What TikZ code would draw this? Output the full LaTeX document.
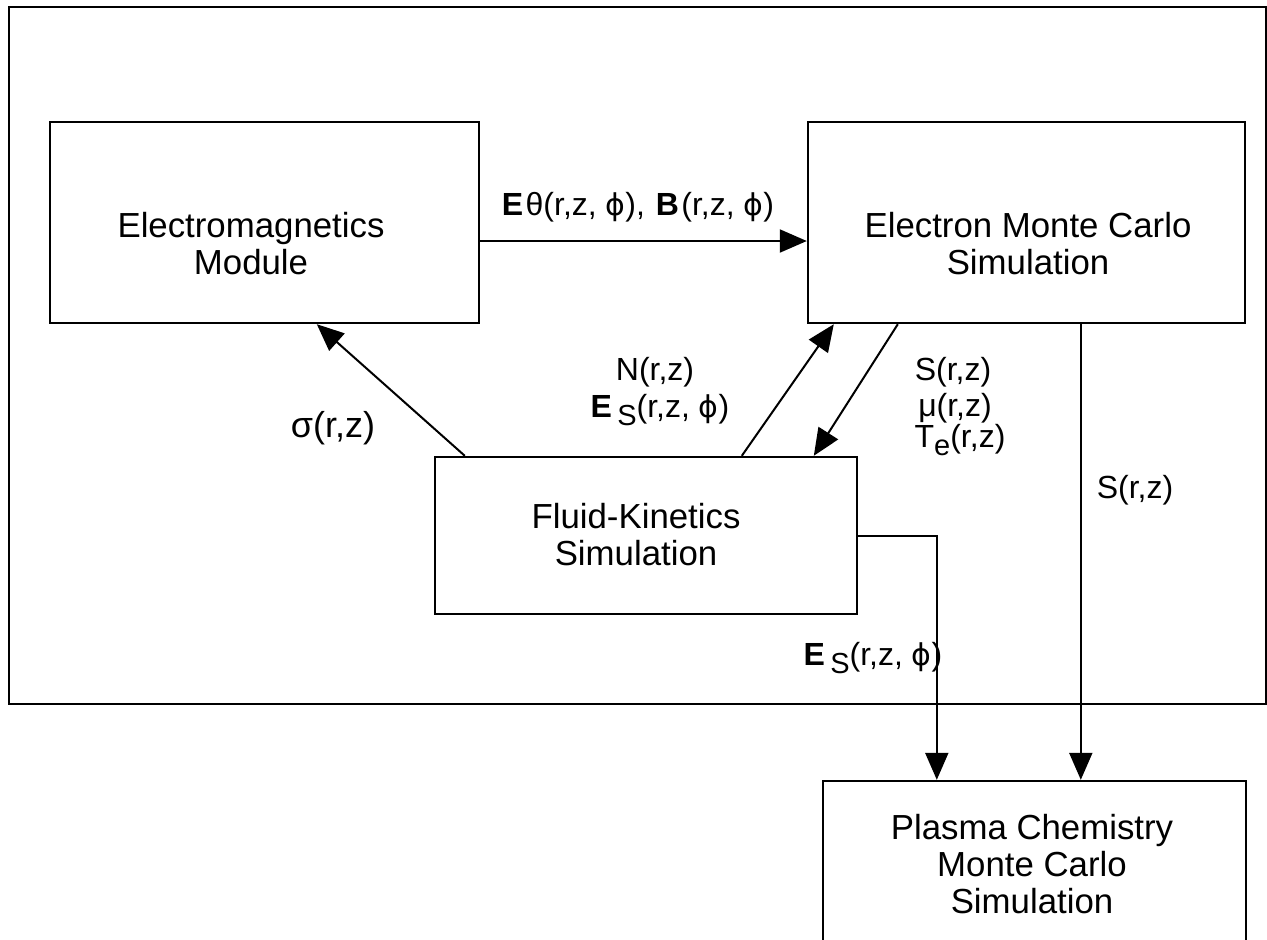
\documentclass[tikz,border=0pt]{standalone}
\usepackage{fontspec}
\setmainfont{Liberation Sans}
\newfontfamily\gk{DejaVu Sans}
\usetikzlibrary{arrows.meta,calc}
\newcommand{\phisym}{{\gk\fontsize{15}{18}\selectfont ϕ}}
\newcommand{\lowsub}[1]{\raisebox{-0.45ex}{\fontsize{14.5}{16}\selectfont #1}}
\begin{document}
\begin{tikzpicture}[x=0.5pt,y=-0.5pt,
  box/.style={draw,line width=1.2pt,inner sep=0pt},
  txt/.style={font=\fontsize{17.4}{18.5}\selectfont,align=center,inner sep=0pt},
  lbl/.style={font=\fontsize{16}{18.5}\selectfont,align=center,inner sep=0pt},
  arr/.style={line width=1pt,-{Triangle[length=13.5pt,width=11.5pt]}},
  ln/.style={line width=1pt}]
\useasboundingbox (0,0) rectangle (1267,939);
\clip (0,0) rectangle (1267,939);
% outer frame
\node[box,minimum width=628.5pt,minimum height=348.5pt] (frame) at (637.5,355.5) {};
% boxes
\node[box,minimum width=214.5pt,minimum height=100.5pt] (EM) at (264.5,222.5) {};
\node[box,minimum width=218.5pt,minimum height=100.5pt] (EMC) at (1026.5,222.5) {};
\node[box,minimum width=211pt,minimum height=78.5pt] (FK) at (646,535.5) {};
\node[box,minimum width=211.5pt,minimum height=110pt] (PC) at (1034.5,891) {};
% box texts
\node[txt] (EMt) at (251,243.5) {Electromagnetics\\Module};
\node[txt] (EMCt) at (1028,243.5) {Electron Monte Carlo\\Simulation};
\node[txt] (FKt) at (636,534.5) {Fluid-Kinetics\\Simulation};
\node[txt] (PCt) at (1032,864) {Plasma Chemistry\\Monte Carlo\\Simulation};
% connectors
\draw[arr] ([yshift=-9.25pt]EM.east) -- ([yshift=-9.25pt]EMC.west);
\draw[arr] ($(FK.north west)+(31,0)$) -- ($(EM.south west)+(268,0)$);
\draw[arr] ($(FK.north west)+(308,0)$) -- ($(EMC.south west)+(27,0)$);
\draw[arr] ($(EMC.south west)+(91,0)$) -- ($(FK.north west)+(380,0)$);
\coordinate (c1) at ($(EMC.south west)+(274,0)$);
\draw[arr] (c1) -- (c1 |- PC.north);
\coordinate (c2) at ($(PC.north west)+(115,0)$);
\draw[arr] (FK.east) -| (c2);
% labels
\node[lbl] (l1) at (638,207) {\textbf{E}\kern1.2ptθ(r,z, \phisym), \kern1pt\textbf{B}\kern1.2pt(r,z, \phisym)};
\node[lbl] (l2) at (655,372) {N(r,z)};
\node[lbl] (l3) at (660,410) {\textbf{E}\,\lowsub{S}(r,z, \phisym)};
\node[lbl] (l4) at (953,372) {S(r,z)};
\node[lbl] (l5) at (955,408) {μ(r,z)};
\node[lbl] (l6) at (960,440) {T\lowsub{e}(r,z)};
\node[lbl,font=\fontsize{18}{20}\selectfont] (l7) at (333,428) {σ(r,z)};
\node[lbl] (l8) at (1135,490) {S(r,z)};
\node[lbl] (l9) at (873,658) {\textbf{E}\,\lowsub{S}(r,z, \phisym)};
\end{tikzpicture}
\end{document}
